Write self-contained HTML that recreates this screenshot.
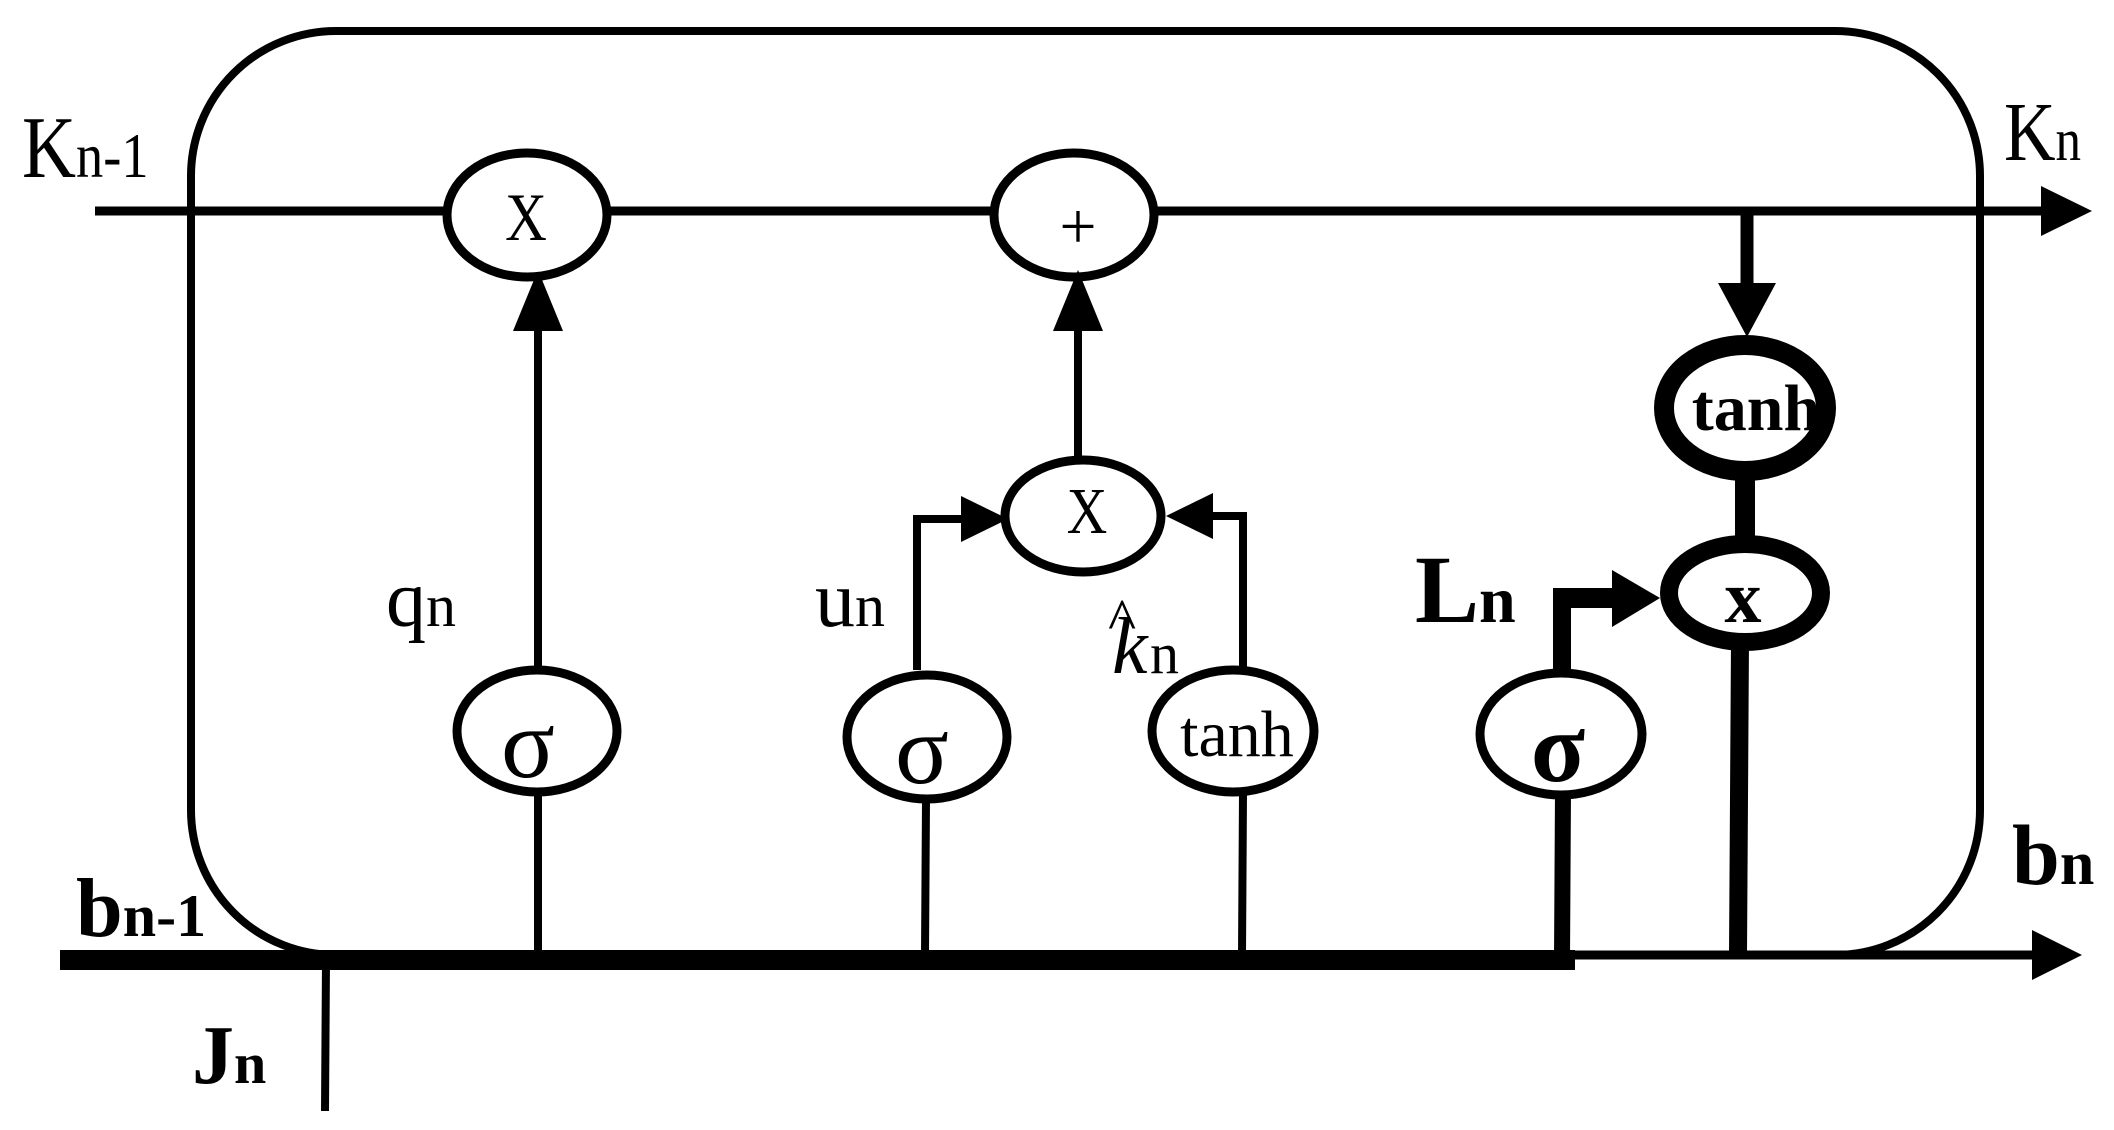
<!DOCTYPE html>
<html><head><meta charset="utf-8"><style>
html,body{margin:0;padding:0;background:#fff;}
svg{display:block;}
text{font-family:"Liberation Serif",serif;fill:#000;}
</style></head><body>
<svg width="2114" height="1130" viewBox="0 0 2114 1130" xmlns="http://www.w3.org/2000/svg">
<!-- box -->
<rect x="191" y="31" width="1789" height="924" rx="145" ry="145" fill="none" stroke="#000" stroke-width="8"/>
<!-- K line -->
<line x1="95" y1="211" x2="2045" y2="211" stroke="#000" stroke-width="9"/>
<polygon points="2041,186 2092,211 2041,236" fill="#000"/>
<!-- b line -->
<line x1="60" y1="960" x2="1575" y2="960" stroke="#000" stroke-width="20"/>
<line x1="1570" y1="955" x2="2040" y2="955" stroke="#000" stroke-width="9"/>
<polygon points="2032,930 2082,955 2032,980" fill="#000"/>
<!-- Jn -->
<line x1="326" y1="960" x2="325" y2="1111" stroke="#000" stroke-width="8"/>

<!-- X1 column -->
<line x1="538" y1="330" x2="538" y2="670" stroke="#000" stroke-width="8"/>
<polygon points="513,331 538,270 563,331" fill="#000"/>
<line x1="538" y1="790" x2="538" y2="955" stroke="#000" stroke-width="8"/>
<ellipse cx="527" cy="215" rx="80" ry="62" fill="#fff" stroke="#000" stroke-width="9"/>
<text x="526" y="240" font-size="68" text-anchor="middle" transform="translate(526 0) scale(0.85 1) translate(-526 0)">X</text>
<ellipse cx="537" cy="731" rx="80" ry="61" fill="#fff" stroke="#000" stroke-width="9"/>
<text x="528" y="777" font-size="100" text-anchor="middle">σ</text>
<text x="386" y="626" font-size="80">q<tspan font-size="60">n</tspan></text>

<!-- plus -->
<ellipse cx="1074" cy="215" rx="80" ry="62" fill="#fff" stroke="#000" stroke-width="9"/>
<text x="1078" y="248" font-size="66" text-anchor="middle">+</text>
<line x1="1078" y1="330" x2="1078" y2="460" stroke="#000" stroke-width="8"/>
<polygon points="1053,331 1078,270 1103,331" fill="#000"/>

<!-- X2 -->
<line x1="917" y1="670" x2="917" y2="519" stroke="#000" stroke-width="8"/>
<line x1="913" y1="519" x2="965" y2="519" stroke="#000" stroke-width="8"/>
<polygon points="961,496 1008,519 961,542" fill="#000"/>
<line x1="1243" y1="670" x2="1243" y2="516" stroke="#000" stroke-width="8"/>
<line x1="1247" y1="516" x2="1210" y2="516" stroke="#000" stroke-width="8"/>
<polygon points="1213,493 1166,516 1213,539" fill="#000"/>
<ellipse cx="1083" cy="516" rx="78" ry="56" fill="#fff" stroke="#000" stroke-width="9"/>
<text x="1087" y="533" font-size="66" text-anchor="middle" transform="translate(1087 0) scale(0.85 1) translate(-1087 0)">X</text>

<!-- sigma2 -->
<ellipse cx="927" cy="737" rx="80" ry="62" fill="#fff" stroke="#000" stroke-width="9"/>
<text x="922" y="783" font-size="100" text-anchor="middle">σ</text>
<line x1="926" y1="800" x2="925" y2="955" stroke="#000" stroke-width="8"/>
<text x="815" y="626" font-size="80">u<tspan font-size="60">n</tspan></text>

<!-- tanh1 -->
<ellipse cx="1233" cy="731" rx="81" ry="61" fill="#fff" stroke="#000" stroke-width="9"/>
<text x="1237" y="756" font-size="66" text-anchor="middle">tanh</text>
<line x1="1243" y1="793" x2="1242" y2="955" stroke="#000" stroke-width="8"/>
<text x="1112" y="673" font-size="80" font-style="italic">k</text>
<text x="1108" y="640" font-size="60">^</text>
<text x="1150" y="673" font-size="58">n</text>

<!-- right column -->
<line x1="1747" y1="211" x2="1747" y2="290" stroke="#000" stroke-width="13"/>
<polygon points="1718,283 1776,283 1747,337" fill="#000"/>
<line x1="1745" y1="470" x2="1745" y2="545" stroke="#000" stroke-width="20"/>
<ellipse cx="1745" cy="408" rx="81" ry="63" fill="#fff" stroke="#000" stroke-width="20"/>
<text x="1756" y="430" font-size="66" font-weight="bold" text-anchor="middle">tanh</text>
<line x1="1740" y1="640" x2="1738" y2="955" stroke="#000" stroke-width="18"/>
<ellipse cx="1745" cy="593" rx="76" ry="49" fill="#fff" stroke="#000" stroke-width="18"/>
<text x="1743" y="622" font-size="74" font-weight="bold" text-anchor="middle">x</text>

<!-- sigma3 -->
<line x1="1562" y1="680" x2="1562" y2="598" stroke="#000" stroke-width="18"/>
<line x1="1553" y1="598" x2="1615" y2="598" stroke="#000" stroke-width="20"/>
<polygon points="1612,570 1660,598 1612,627" fill="#000"/>
<line x1="1563" y1="790" x2="1562" y2="960" stroke="#000" stroke-width="16"/>
<ellipse cx="1561" cy="734" rx="81" ry="61" fill="#fff" stroke="#000" stroke-width="9"/>
<text x="1558" y="781" font-size="100" font-weight="bold" text-anchor="middle">σ</text>
<text x="1415" y="622" font-size="96" font-weight="bold">L<tspan font-size="66">n</tspan></text>

<!-- labels -->
<text x="22" y="177" font-size="88" transform="translate(22 0) scale(0.85 1) translate(-22 0)">K<tspan font-size="64">n-1</tspan></text>
<text x="2004" y="160" font-size="84" transform="translate(2004 0) scale(0.85 1) translate(-2004 0)">K<tspan font-size="60">n</tspan></text>
<text x="76" y="936" font-size="84" font-weight="bold">b<tspan font-size="60">n-1</tspan></text>
<text x="2012" y="884" font-size="86" font-weight="bold">b<tspan font-size="62">n</tspan></text>
<text x="192" y="1083" font-size="84" font-weight="bold">J<tspan font-size="58">n</tspan></text>
</svg>
</body></html>
